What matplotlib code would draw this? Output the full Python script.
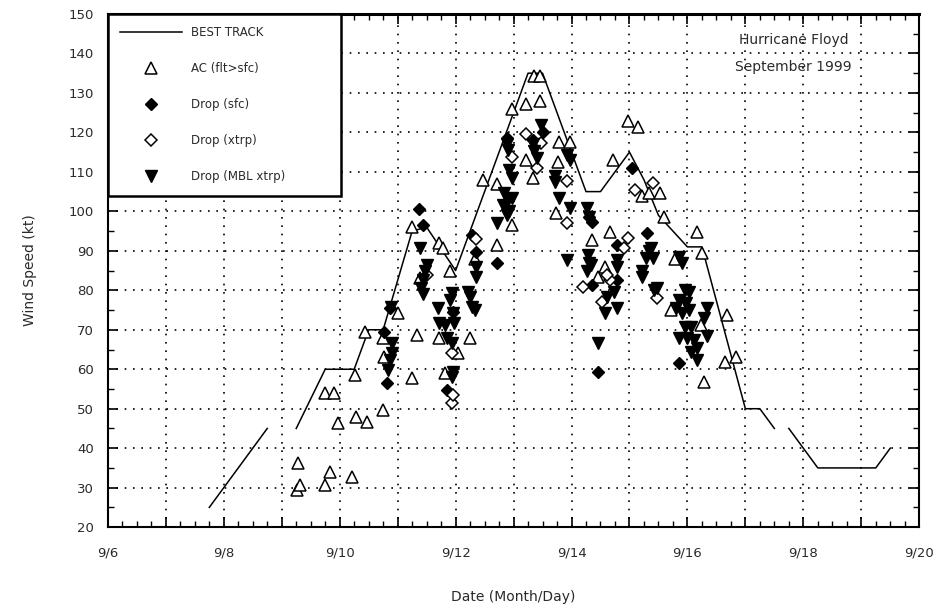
import matplotlib.pyplot as plt
import numpy as np
from matplotlib.ticker import MultipleLocator, FixedLocator

# best track (day of September, kt), three pieces with gaps between them
bt1_day = [7.75, 8.75]
bt1_kt = [25, 45]
bt2_day = [9.25, 9.75, 10.25, 10.5, 10.75, 11.25, 11.5, 12.0, 12.5, 13.0, 13.25, 13.5,
           14.0, 14.25, 14.5, 15.0, 15.25, 15.5, 16.0, 16.25, 17.0, 17.25, 17.5]
bt2_kt = [45, 60, 60, 70, 70, 95, 96, 85, 105, 125, 135, 135,
          115, 105, 105, 115, 108, 99, 91, 91, 50, 50, 45]
bt3_day = [17.75, 18.25, 19.25, 19.5]
bt3_kt = [45, 35, 35, 40]

# AC (flt>sfc)
ac_day = [9.26, 9.31, 9.28, 9.74, 9.83, 10.22, 9.74, 9.91, 9.97, 10.29, 10.47, 10.26,
          10.43, 10.74, 10.74, 10.77, 11.0, 11.24, 11.24, 11.33, 11.38, 11.72, 11.78,
          11.9, 11.72, 11.81, 12.24, 12.33, 12.47, 12.72, 12.72, 12.98, 12.97, 13.22,
          13.45, 13.36, 13.45, 13.22, 13.33, 13.79, 13.97, 13.76, 13.74, 14.36, 14.57,
          14.45, 14.66, 14.71, 14.97, 15.14, 15.21, 15.34, 15.52, 15.6, 16.17, 15.78,
          16.26, 15.72, 16.24, 16.69, 16.64, 16.84, 16.29, 12.05]
ac_kt = [29.4, 30.6, 36.2, 30.6, 33.9, 32.7, 54, 54, 46.3, 47.8, 46.6, 58.5,
         69.4, 49.6, 68, 63, 74.2, 96, 57.7, 68.6, 83, 92, 90.6,
         85, 68, 59, 67.8, 88, 108, 107, 91.4, 96.5, 126, 127.3,
         128, 134.4, 134.4, 113, 108.4, 117.5, 117.5, 112.4, 99.7, 92.7, 85.8,
         83.3, 94.7, 113, 123, 121.3, 104, 104.6, 104.6, 98.5, 94.7, 88,
         89.4, 74.9, 71.1, 73.7, 61.8, 63, 56.7, 64]

# Drop (sfc)
sfc_day = [11.36, 11.43, 10.81, 10.86, 12.28, 12.36, 12.72, 11.95, 11.86, 13.34, 12.88,
           14.31, 14.36, 14.79, 15.31, 14.36, 14.79, 14.45, 15.86, 15.05, 10.76, 13.5]
sfc_kt = [100.5, 96.5, 56.5, 75.4, 94, 89.6, 86.8, 74.4, 54.7, 118.2, 118.7,
          98.5, 97.2, 91.4, 94.4, 81.3, 82.5, 59.2, 61.5, 111, 69.4, 120]

# Drop (xtrp)
xtrp_day = [11.93, 11.93, 11.95, 13.22, 13.48, 13.4, 12.97, 13.93, 13.93, 14.97, 14.9,
            14.19, 14.66, 14.53, 15.47, 15.09, 15.4, 12.36, 11.5, 14.62]
xtrp_kt = [64, 51.4, 53.5, 119.7, 117.2, 111, 113.7, 107.8, 97, 93.2, 90.6,
           80.8, 82.5, 77, 78, 105.3, 107.3, 93, 84, 84]

# Drop (MBL xtrp)
mbl_day = [10.9, 10.91, 10.86, 10.83, 10.88,
           11.38, 11.5, 11.47, 11.43, 11.41, 11.43,
           11.93, 11.9, 12.21, 12.24, 12.29, 12.33,
           11.69, 11.72, 11.81, 11.95, 11.98, 11.86, 11.93,
           11.95, 11.93, 12.36, 12.36, 12.71,
           13.48, 13.33, 13.36, 13.4, 12.88, 12.9, 12.93, 12.97,
           12.84, 12.9, 12.98, 12.81, 12.93, 12.88,
           13.93, 13.98, 13.71, 13.71, 13.79, 13.97,
           14.26, 14.31,
           13.93, 14.28, 14.31, 14.26, 14.33,
           14.78, 14.79,
           14.62, 14.57, 14.79, 14.74,
           15.34, 15.29, 15.21, 15.22, 15.43, 15.38, 15.4,
           15.86, 15.9, 15.47,
           15.95, 16.03, 15.86, 15.98, 15.81, 15.91, 16.03, 16.33, 16.29,
           15.95, 16.07, 15.86, 16.0, 16.12, 16.16, 16.07, 16.16, 16.33,
           14.45]
mbl_kt = [66.6, 64, 62.3, 59.7, 75.8,
          90.6, 86.3, 85, 82.5, 80.5, 79,
          79.2, 77.5, 79.5, 78.3, 75.7, 75,
          75.4, 71.6, 71.1, 74.2, 71.6, 67.8, 66.6,
          59.2, 58, 85.8, 83.3, 97,
          121.8, 117, 115.4, 113.5, 117, 115.5, 110.4, 108.4,
          104.6, 102.8, 103.5, 101.5, 100.2, 99,
          114.2, 113, 109, 107.5, 103.5, 100.8,
          100.8, 98.5,
          87.6, 88.9, 87, 85, 86.5,
          87.6, 85.8,
          78.2, 74.2, 75.4, 79.5,
          90, 88.3, 85, 83.3, 80, 90.6, 88.3,
          88.4, 86.8, 80.5,
          80, 79.5, 77.5, 76.9, 75.4, 74.2, 75, 75.4, 73,
          70.6, 70.6, 67.8, 68, 67.3, 65.5, 64.3, 62.3, 68.5,
          66.6]

day_ticks = list(range(6, 21))
day_labels = ['9/%d' % d if d % 2 == 0 else '' for d in day_ticks]

plt.rcParams['font.family'] = ['DejaVu Sans']
txtc = '#2a2a2a'

fig = plt.figure(figsize=(9.38, 6.08), dpi=100)
ax = fig.add_axes([0.115, 0.133, 0.865, 0.844])

ax.plot(bt1_day, bt1_kt, color='black', lw=1.1, label='BEST TRACK')
ax.plot(bt2_day, bt2_kt, color='black', lw=1.1)
ax.plot(bt3_day, bt3_kt, color='black', lw=1.1)

ax.plot(ac_day, ac_kt, ls='none', marker='^', ms=8.5, mfc='white', mec='black', mew=1.1,
        label='AC (flt>sfc)')
ax.plot(sfc_day, sfc_kt, ls='none', marker='D', ms=6, mfc='black', mec='black',
        label='Drop (sfc)')
ax.plot(xtrp_day, xtrp_kt, ls='none', marker='D', ms=6, mfc='white', mec='black', mew=1.1,
        label='Drop (xtrp)')
ax.plot(mbl_day, mbl_kt, ls='none', marker='v', ms=8.5, mfc='black', mec='black',
        label='Drop (MBL xtrp)')

ax.set_xlim(6, 20)
ax.set_ylim(20, 150)
ax.xaxis.set_major_locator(FixedLocator(day_ticks))
ax.set_xticklabels(day_labels)
ax.xaxis.set_minor_locator(MultipleLocator(0.25))
ax.yaxis.set_major_locator(MultipleLocator(10))
ax.yaxis.set_minor_locator(MultipleLocator(5))

ax.tick_params(which='both', direction='in', top=True, right=True, colors='black')
ax.tick_params(which='major', length=7, width=1.2)
ax.tick_params(which='minor', length=4, width=1)
ax.tick_params(axis='x', which='major', pad=14, labelsize=9.5, labelcolor=txtc)
ax.tick_params(axis='y', which='major', pad=10, labelsize=9.5, labelcolor=txtc)

ax.grid(True, which='major', color='black', ls=(0, (1, 4)), lw=1.2)
for s in ax.spines.values():
    s.set_linewidth(1.5)
ax.spines['top'].set_linewidth(2.2)

ax.set_xlabel('Date (Month/Day)', fontsize=10, color=txtc, labelpad=22)
ax.set_ylabel('Wind Speed (kt)', fontsize=10, color=txtc, labelpad=23)

ax.text(0.845, 0.949, 'Hurricane Floyd', transform=ax.transAxes, ha='center',
        va='center', fontsize=10, color=txtc)
ax.text(0.845, 0.897, 'September 1999', transform=ax.transAxes, ha='center',
        va='center', fontsize=10, color=txtc)

leg = ax.legend(loc='upper left', bbox_to_anchor=(0, 0.66, 0.287, 0.34), mode='expand',
                borderaxespad=0, fancybox=False, framealpha=1, edgecolor='black',
                fontsize=8.5, numpoints=1, handlelength=5.2, handletextpad=0.8,
                labelspacing=1.95, borderpad=1.05)
leg.get_frame().set_linewidth(1.8)
for t in leg.get_texts():
    t.set_color(txtc)

fig.savefig('out.png', dpi=100)
